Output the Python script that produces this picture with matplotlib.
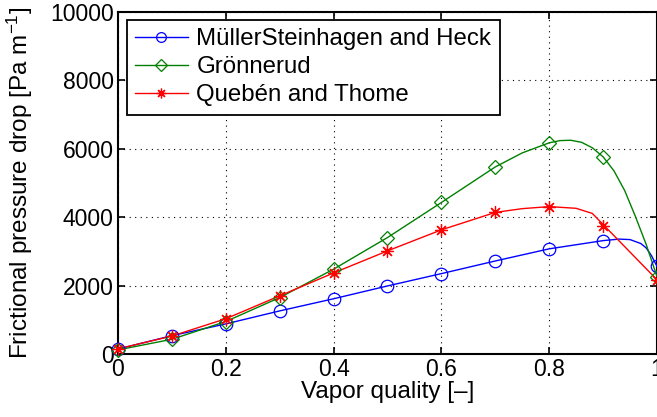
import matplotlib
matplotlib.use("Agg")
import matplotlib.pyplot as plt

plt.rcParams['font.family'] = ['Liberation Sans', 'DejaVu Sans']
plt.rcParams['mathtext.fontset'] = 'custom'
plt.rcParams['mathtext.rm'] = 'Liberation Sans'
plt.rcParams['mathtext.it'] = 'Liberation Sans'

# Marker data (vapor quality 0..1 step 0.1)
x_mk = [0.0, 0.1, 0.2, 0.3, 0.4, 0.5, 0.6, 0.7, 0.8, 0.9, 1.0]
muller_mk = [145, 535, 880, 1260, 1615, 1990, 2350, 2720, 3075, 3315, 2560]
gronn_mk = [120, 430, 950, 1650, 2480, 3405, 4430, 5470, 6175, 5766, 2263]
queben_mk = [150, 525, 1030, 1700, 2370, 3015, 3630, 4140, 4310, 3750, 2170]

# Curve data
x_muller = [0.0, 0.1, 0.2, 0.3, 0.4, 0.5, 0.6, 0.7, 0.8, 0.9, 0.93, 0.95, 0.97, 0.98, 0.99, 1.0]
y_muller = [145, 535, 880, 1260, 1615, 1990, 2350, 2720, 3075, 3315, 3360, 3345, 3230, 3100, 2870, 2560]
x_gronn = [0.0, 0.1, 0.2, 0.3, 0.4, 0.5, 0.6, 0.7, 0.75, 0.8, 0.82, 0.84, 0.86, 0.88, 0.9,
           0.92, 0.94, 0.96, 0.98, 1.0]
y_gronn = [120, 430, 950, 1650, 2480, 3405, 4430, 5470, 5880, 6175, 6240, 6250, 6190, 6030, 5766,
           5360, 4780, 4020, 3200, 2263]
x_queben = [0.0, 0.1, 0.2, 0.3, 0.4, 0.5, 0.6, 0.7, 0.75, 0.8, 0.85, 0.88, 1.0]
y_queben = [150, 525, 1030, 1700, 2370, 3015, 3630, 4140, 4250, 4310, 4260, 4110, 2170]

labels = ['MüllerSteinhagen and Heck', 'Grönnerud', 'Quebén and Thome']
colors = ['#0000ff', '#008000', '#ff0000']
markers = ['o', 'D', (8, 2, 0)]
msizes = [9, 7.5, 9]
legend_ms = [7, 6, 7]

fig = plt.figure(figsize=(6.57, 4.17), dpi=100)
ax = fig.add_axes([0.1796, 0.1511, 0.8204, 0.8201])

curves = [(x_muller, y_muller, muller_mk), (x_gronn, y_gronn, gronn_mk), (x_queben, y_queben, queben_mk)]
handles = []
for (xc, yc, mk), lab, c, m, ms, lms in zip(curves, labels, colors, markers, msizes, legend_ms):
    ax.plot(xc, yc, color=c, lw=1.0, zorder=3)
    ax.plot(x_mk, mk, linestyle='none', marker=m, markersize=ms, markerfacecolor='none',
            markeredgecolor=c, markeredgewidth=0.9, zorder=4, clip_on=False)
    h, = ax.plot([], [], color=c, lw=1.0, marker=m, markersize=lms, markerfacecolor='none',
                 markeredgecolor=c, markeredgewidth=0.9)
    handles.append(h)

ax.set_xlim(0, 1)
ax.set_ylim(0, 10000)
ax.set_xticks([0, 0.2, 0.4, 0.6, 0.8, 1.0])
ax.set_xticklabels(['0', '0.2', '0.4', '0.6', '0.8', '1'])
ax.set_yticks([0, 2000, 4000, 6000, 8000, 10000])
ax.grid(True, color='black', linestyle=(0, (1, 4)), linewidth=0.8)
ax.tick_params(direction='in', length=5, width=1.2, labelsize=16.5, top=True, right=True, pad=3)
for s in ax.spines.values():
    s.set_linewidth(1.5)

ax.set_xlabel('Vapor quality [–]', fontsize=17.5, labelpad=0)
ax.set_ylabel('Frictional pressure drop [Pa m$^{-1}$]', fontsize=17.5, labelpad=11)

leg = ax.legend(handles, labels, loc='upper left', bbox_to_anchor=(0.016, 0.977), fontsize=17.3,
                frameon=True, fancybox=False, edgecolor='black', framealpha=1,
                handlelength=2.2, borderpad=0.35, labelspacing=0.25, handletextpad=0.35, borderaxespad=0)
leg.get_frame().set_linewidth(1.3)

fig.savefig('out.png', dpi=100)
